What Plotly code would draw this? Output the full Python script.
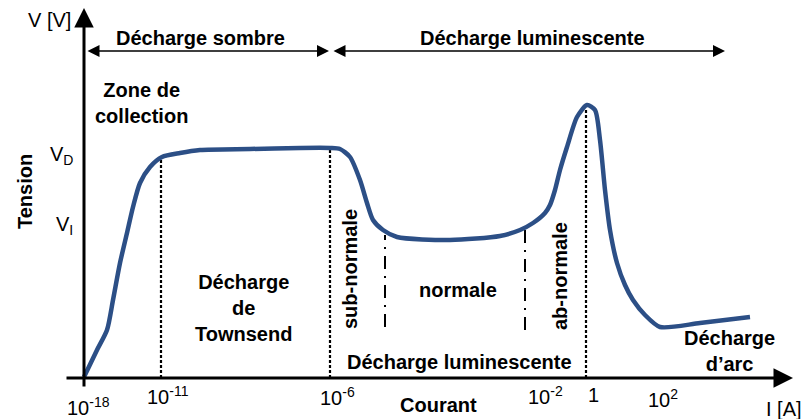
import plotly.graph_objects as go

# Schematic coordinates: x = position along the (non-uniform log) current axis, y = voltage (arbitrary)
curve_x = [0, 13, 23, 29, 36, 43, 49, 56, 66, 78, 96, 116, 166, 216, 246, 256, 266, 276, 283, 289,
           299, 313, 366, 416, 436, 449, 461, 466, 471, 476, 483, 493, 503, 511, 516, 521, 526, 533,
           541, 549, 561, 576, 616, 666]
curve_y = [1, 28, 48, 78, 115, 145, 171, 195, 211, 221, 225, 228, 229, 230, 230, 229, 221, 198, 175, 158,
           148, 141, 138, 142, 148, 155, 165, 173, 188, 208, 231, 261, 273, 268, 238, 188, 148, 115,
           93, 78, 63, 51, 55, 61]

tick_pos = [0, 77, 246, 454, 502, 572]
tick_text = ["10<sup>-18</sup>", "10<sup>-11</sup>", "10<sup>-6</sup>", "10<sup>-2</sup>", "1", "10<sup>2</sup>"]
tick_yshift = [-28, -17, -18, -17, -17, -20]

v_levels = [218, 148]
v_labels = ["V<sub>D</sub>", "V<sub>I</sub>"]

# vertical boundaries (x position, top y)
dotted_x = [77, 246, 502]
dotted_top = [221, 230, 270]
dashdot_x = [301, 441]
dashdot_top = [143, 151]
dashdot_bottom = [51, 48]

FONT = "Liberation Sans, Arial, Helvetica, sans-serif"
BLUE = "#2c4f86"

fig = go.Figure()

for xv, top in zip(dotted_x, dotted_top):
    fig.add_trace(go.Scatter(x=[xv, xv], y=[0, top], mode="lines",
                             line=dict(color="black", width=2.2, dash="3px,2px"),
                             hoverinfo="skip", showlegend=False))
for xv, top, bot in zip(dashdot_x, dashdot_top, dashdot_bottom):
    fig.add_trace(go.Scatter(x=[xv, xv], y=[bot, top], mode="lines",
                             line=dict(color="black", width=2, dash="13px,7px,2px,7px"),
                             hoverinfo="skip", showlegend=False))

fig.add_trace(go.Scatter(x=curve_x, y=curve_y, mode="lines",
                         line=dict(color=BLUE, width=4.5, shape="spline", smoothing=0.7),
                         hoverinfo="skip", showlegend=False))

ann = []
def arrow(x0, y0, x1, y1, width=3, size=1.2, side="end"):
    ann.append(dict(x=x1, y=y1, ax=x0, ay=y0, xref="x", yref="y", axref="x", ayref="y",
                    showarrow=True, arrowhead=2, arrowsize=size, arrowwidth=width,
                    arrowcolor="black", arrowside=side, text=""))

# axes
arrow(-19, 0, 709, 0, width=3, size=1.3)
arrow(0, -10, 0, 370, width=3, size=1.3)
# region arrows
arrow(2, 327, 245, 327, width=1.5, size=1.6, side="end+start")
arrow(248, 327, 641, 327, width=1.5, size=1.6, side="end+start")

def text(x, y, s, bold=True, size=20, angle=0, xanchor="center"):
    ann.append(dict(x=x, y=y, xref="x", yref="y", text=("<b>%s</b>" % s) if bold else s,
                    showarrow=False, textangle=angle, xanchor=xanchor, yanchor="middle",
                    font=dict(family=FONT, size=size, color="black")))

text(-35, 358, "V [V]", bold=False)
text(116, 340, "Décharge sombre")
text(448, 340, "Décharge luminescente")
text(57, 275, "Zone de<br>collection")
text(-59, 186, "Tension", angle=-90)
for yv, lab in zip(v_levels, v_labels):
    text(-9, yv + 5, lab, bold=False, xanchor="right")
text(159, 70, "Décharge<br>de<br>Townsend")
text(266, 109, "sub-normale", angle=-90)
text(374, 88, "normale")
text(476, 102, "ab-normale", angle=-90)
text(375, 16, "Décharge luminescente")
text(645, 27, "Décharge<br>d’arc")
text(354, -27, "Courant")
text(700, -31, "I [A]", bold=False)

for xv, lab, ys in zip(tick_pos, tick_text, tick_yshift):
    ann.append(dict(x=xv + (4 if xv == 0 else 7), y=0, xref="x", yref="y", text=lab, showarrow=False,
                    yshift=ys, xanchor="center", yanchor="middle",
                    font=dict(family=FONT, size=20, color="black")))

fig.update_layout(
    width=806, height=419,
    margin=dict(l=0, r=0, t=0, b=0),
    paper_bgcolor="white", plot_bgcolor="white",
    xaxis=dict(range=[-84, 722], visible=False, fixedrange=True),
    yaxis=dict(range=[-41, 378], visible=False, fixedrange=True),
    annotations=ann,
    showlegend=False,
)
fig.write_html("out.html", config={"displayModeBar": False},
               post_script="document.body.style.margin='0';document.body.style.overflow='hidden';")
